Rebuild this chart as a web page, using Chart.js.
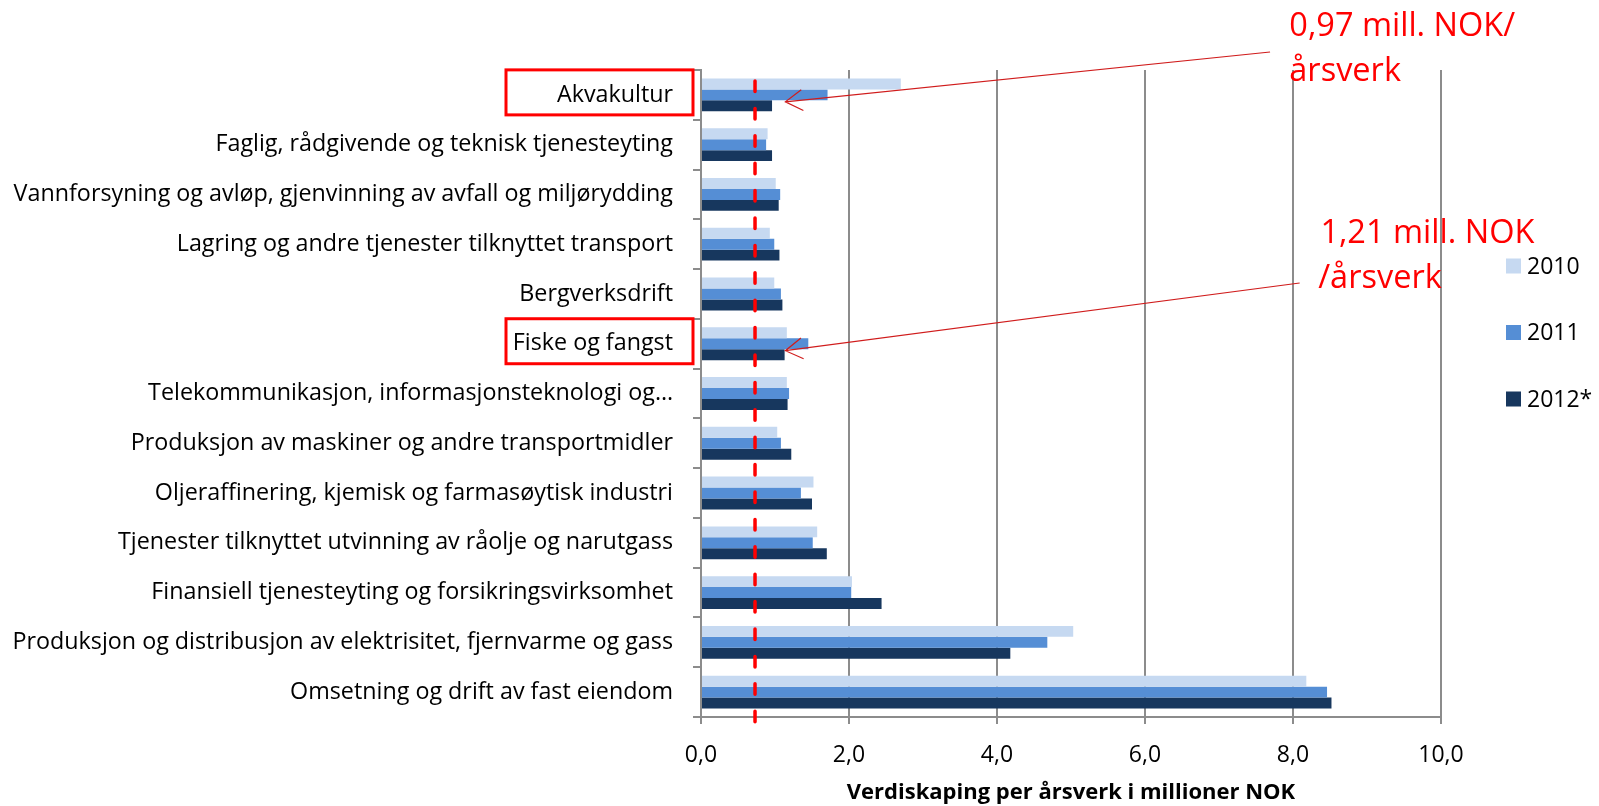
<!DOCTYPE html>
<html>
<head>
<meta charset="utf-8">
<script src="https://cdn.jsdelivr.net/npm/chart.js@4.4.1/dist/chart.umd.min.js"></script>
<style>
  html, body { margin: 0; padding: 0; background: #fff; }
  #wrap { width: 1599px; height: 806px; }
</style>
</head>
<body>
<div id="wrap"><canvas id="chart"></canvas></div>
<script>
// bransjer, ovenfra og ned
const categories = [
    'Akvakultur',
    'Faglig, rådgivende og teknisk tjenesteyting',
    'Vannforsyning og avløp, gjenvinning av avfall og miljørydding',
    'Lagring og andre tjenester tilknyttet transport',
    'Bergverksdrift',
    'Fiske og fangst',
    'Telekommunikasjon, informasjonsteknologi og…',
    'Produksjon av maskiner og andre transportmidler',
    'Oljeraffinering, kjemisk og farmasøytisk industri',
    'Tjenester tilknyttet utvinning av råolje og narutgass',
    'Finansiell tjenesteyting og forsikringsvirksomhet',
    'Produksjon og distribusjon av elektrisitet, fjernvarme og gass',
    'Omsetning og drift av fast eiendom'
];

const seriesLabels = ['2010', '2011', '2012*'];
const values2010 = [2.70, 0.90, 1.01, 0.93, 0.99, 1.16, 1.16, 1.03, 1.52, 1.57, 2.04, 5.03, 8.18];
const values2011 = [1.71, 0.88, 1.07, 0.99, 1.08, 1.45, 1.19, 1.08, 1.35, 1.51, 2.03, 4.68, 8.46];
const values2012 = [0.96, 0.96, 1.05, 1.06, 1.10, 1.13, 1.17, 1.22, 1.50, 1.70, 2.44, 4.18, 8.52];

const xMin = 0;
const xMax = 10;
const xStep = 2;
const axisTitle = 'Verdiskaping per årsverk i millioner NOK';

// rød stiplet referanselinje
const refLine = 0.73;

// markerte bransjer med piler og tekst
const highlighted = ['Akvakultur', 'Fiske og fangst'];
const calloutText = [
    ['0,97 mill. NOK/', 'årsverk'],
    ['1,21 mill. NOK', '/årsverk']
];

const fontFamily = '"Open Sans", Lato, sans-serif';
const grey = '#8c8c8c';
const red = '#ff0000';
const colors = ['#c6d9f1', '#558ed5', '#17375e'];

const fmt = v => v.toFixed(1).replace('.', ',');

const overlay = {
    id: 'overlay',
    afterDatasetsDraw(chart) {
        const { ctx, chartArea: a, scales: { x } } = chart;
        const px = x.getPixelForValue(refLine);
        ctx.save();
        ctx.strokeStyle = red;
        ctx.lineWidth = 3.5;
        ctx.lineCap = 'round';
        ctx.setLineDash([10.5, 16.9]);
        ctx.beginPath();
        ctx.moveTo(px, a.top + 11);
        ctx.lineTo(px, a.bottom + 14);
        ctx.stroke();
        ctx.restore();
    },
    afterDraw(chart) {
        const { ctx, chartArea: a, scales: { x, y } } = chart;
        ctx.save();

        // rammer rundt kategorinavn
        ctx.strokeStyle = red;
        ctx.lineWidth = 3;
        highlighted.forEach(name => {
            const cy = y.getPixelForValue(categories.indexOf(name));
            ctx.strokeRect(a.left - 195, cy - 25, 187, 45);
        });

        // piler fra tekst til stolpe
        const starts = [[7.69, 52], [8.09, 283]];
        ctx.strokeStyle = '#d01c1c';
        ctx.lineWidth = 1.2;
        highlighted.forEach((name, i) => {
            const bar = chart.getDatasetMeta(2).data[categories.indexOf(name)];
            const tx = x.getPixelForValue(1.14);
            const ty = bar.y - 4;
            const sx = x.getPixelForValue(starts[i][0]);
            const sy = starts[i][1];
            const ang = Math.atan2(sy - ty, sx - tx);
            ctx.beginPath();
            ctx.moveTo(sx, sy);
            ctx.lineTo(tx, ty);
            ctx.moveTo(tx + 20 * Math.cos(ang - 0.55), ty + 20 * Math.sin(ang - 0.55));
            ctx.lineTo(tx, ty);
            ctx.lineTo(tx + 20 * Math.cos(ang + 0.55), ty + 20 * Math.sin(ang + 0.55));
            ctx.stroke();
        });

        // tekst
        ctx.fillStyle = red;
        ctx.font = '32.5px ' + fontFamily;
        ctx.textAlign = 'left';
        ctx.textBaseline = 'alphabetic';
        ctx.fillText(calloutText[0][0], x.getPixelForValue(7.95), 36);
        ctx.fillText(calloutText[0][1], x.getPixelForValue(7.95), 81);
        ctx.fillText(calloutText[1][0], x.getPixelForValue(8.37), 243);
        ctx.fillText(calloutText[1][1], x.getPixelForValue(8.34), 288);

        // forklaring
        ctx.font = '23px ' + fontFamily;
        ctx.textBaseline = 'middle';
        chart.data.datasets.forEach((ds, i) => {
            const ly = 266 + i * 66.5;
            const lx = a.right + 65;
            ctx.fillStyle = ds.backgroundColor;
            ctx.fillRect(lx, ly - 7.5, 15, 15);
            ctx.fillStyle = '#000';
            ctx.fillText(ds.label, lx + 21, ly + 1);
        });

        ctx.restore();
    }
};

const ctx = document.getElementById('chart').getContext('2d');

new Chart(ctx, {
    type: 'bar',
    data: {
        labels: categories,
        datasets: [values2010, values2011, values2012].map((vals, i) => ({
            label: seriesLabels[i],
            data: vals,
            backgroundColor: colors[i],
            borderWidth: 0,
            categoryPercentage: 0.66,
            barPercentage: 1.0
        }))
    },
    options: {
        indexAxis: 'y',
        responsive: true,
        maintainAspectRatio: false,
        animation: false,
        layout: {
            padding: { left: 0, right: 158, top: 70, bottom: 0 }
        },
        scales: {
            x: {
                min: xMin,
                max: xMax,
                afterFit: s => { s.height = 89; },
                ticks: {
                    stepSize: xStep,
                    padding: 18,
                    color: '#000',
                    font: { family: fontFamily, size: 23 },
                    callback: v => fmt(v)
                },
                grid: {
                    color: grey,
                    lineWidth: 2,
                    tickLength: 7
                },
                border: { color: grey, width: 2 },
                title: {
                    display: true,
                    text: axisTitle,
                    color: '#000',
                    font: { family: fontFamily, size: 22, weight: 'bold' },
                    padding: { top: 0, bottom: 0 }
                }
            },
            y: {
                afterFit: s => { s.width = 701; },
                ticks: {
                    padding: 20,
                    color: '#000',
                    autoSkip: false,
                    font: { family: fontFamily, size: 23.3 }
                },
                grid: {
                    offset: true,
                    drawOnChartArea: false,
                    color: grey,
                    lineWidth: 2,
                    tickLength: 8
                },
                border: { color: grey, width: 2 }
            }
        },
        plugins: {
            legend: { display: false },
            tooltip: { enabled: false }
        }
    },
    plugins: [overlay]
});
</script>
</body>
</html>
